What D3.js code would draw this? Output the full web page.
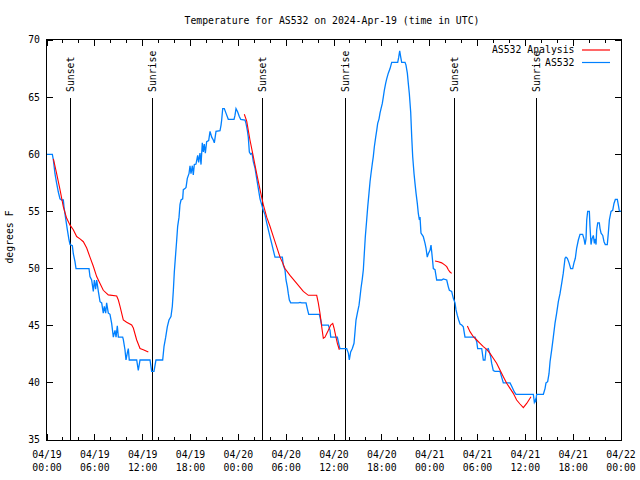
<!DOCTYPE html>
<html>
<head>
<meta charset="utf-8">
<script src="https://cdn.jsdelivr.net/npm/d3@7"></script>
<style>
  html, body { margin: 0; padding: 0; background: #fff; }
  svg { display: block; }
  text { font-family: "DejaVu Sans Mono", "Liberation Mono", monospace; font-size: 9.8px; fill: #000; }
</style>
</head>
<body>
<script>
// ---------- DATA (hours since 2024-04-19 00:00 UTC, degrees F) ----------
const titleText = "Temperature for AS532 on 2024-Apr-19 (time in UTC)";
const yLabel = "degrees F";
const yTicks = [35, 40, 45, 50, 55, 60, 65, 70];
const xMajorTicks = [0, 6, 12, 18, 24, 30, 36, 42, 48, 54, 60, 66, 72];
const xTickDates = ["04/19","04/19","04/19","04/19","04/20","04/20","04/20","04/20","04/21","04/21","04/21","04/21","04/22"];
const xTickTimes = ["00:00","06:00","12:00","18:00","00:00","06:00","12:00","18:00","00:00","06:00","12:00","18:00","00:00"];
const sunEvents = [
  {h: 2.92, label: "Sunset"}, {h: 13.21, label: "Sunrise"},
  {h: 27.0, label: "Sunset"}, {h: 37.38, label: "Sunrise"},
  {h: 51.09, label: "Sunset"}, {h: 61.34, label: "Sunrise"}
];
const seriesNames = ["AS532 Analysis", "AS532"];

const as532 = [
 [0,60],[0.67,60],[0.8,59.5],[1.0,58.3],[1.2,57.5],[1.42,56.7],[1.63,56.1],[1.84,56],[2.05,56],[2.13,55.4],[2.38,54.2],[2.55,53.4],[2.76,52.5],[2.89,52.1],[3.18,52],[3.3,51.3],[3.51,50.6],[3.64,50],[5.27,50],[5.39,49.3],[5.6,49],[5.81,48],[5.94,49],[6.1,48.2],[6.23,49],[6.44,48],[6.65,47.1],[6.86,47],[7.06,46.1],[7.19,46.7],[7.36,46.1],[7.48,47],[7.69,46.1],[7.9,46],[8.11,45.2],[8.32,44],[8.53,44.6],[8.66,44],[8.82,45],[8.95,44],[9.49,44],[9.57,43.8],[9.78,42.9],[9.91,42],[10.07,42.6],[10.2,43],[10.32,42],[11.25,42],[11.45,41.1],[11.67,42],[12.92,42],[13.13,41],[13.42,41],[13.67,42],[14.51,42],
 [14.68,43.2],[14.89,44],[15.09,44.9],[15.3,45.5],[15.55,45.8],[15.72,46.7],[15.85,48.1],[15.97,49.7],[16.14,51.3],[16.27,52.5],[16.39,53.7],[16.56,54.5],[16.68,55.6],[16.81,56],[17.02,56.1],[17.1,56.9],[17.31,57],[17.44,57.1],[17.6,57.9],[17.81,58.3],[17.94,59],[18.06,58.3],[18.23,59],[18.35,58.2],[18.48,59.1],[18.69,59.15],[18.9,59.9],[19.02,59.3],[19.19,60.1],[19.32,59.1],[19.48,61],[19.61,60.2],[19.73,60.9],[19.86,60.1],[20.03,61.1],[20.28,61.2],[20.45,62],[20.66,61.5],[20.86,61.25],[20.99,61],[21.2,62],[21.7,62.06],[21.83,62.56],[21.91,63],[22.04,64],[22.24,64],[22.45,63.6],[22.74,63.06],[23.46,63.06],[23.58,63.4],[23.71,64],[23.92,63.7],[24.12,63.3],[24.3,63.06],[24.84,63],[24.96,62.7],[25.13,62.1],[25.25,61.5],[25.38,60.2],[25.55,60],[25.72,60.1],[25.88,59.35],[26.09,58.8],[26.3,57.9],[26.51,57],[26.72,56.1],[26.93,55.6],[27.13,55.1],[27.35,54.7],[27.56,54],[27.76,53.4],[27.97,52.8],[28.18,52.2],[28.39,51.6],[28.6,51],[29.52,51],
 [29.64,50.3],[29.85,49.9],[29.98,49],[30.15,48.4],[30.27,47.8],[30.4,47.25],[30.57,47],[31.53,47],[31.74,47.04],[31.95,47],[32.49,47],[32.65,46.5],[32.83,46],[34.16,46],[34.33,45.5],[34.46,45.06],[35.29,45.06],[35.5,44.6],[35.59,44],[36.42,44],[36.59,43.46],[36.75,43],[37.59,43],[37.8,42.6],[37.92,42],[38.09,42.7],[38.3,43],[38.51,43.46],[38.64,44.5],[38.76,45.5],[38.93,46.1],[39.14,46.8],[39.26,47.5],[39.39,48.3],[39.55,49.1],[39.68,49.9],[39.8,51.3],[39.93,52.8],[40.1,54.25],[40.23,55.4],[40.39,56.6],[40.52,57.6],[40.64,58.3],[40.81,59.2],[40.93,59.8],[41.06,60.66],[41.23,61.5],[41.36,62.1],[41.48,62.7],[41.65,63.1],[41.77,63.6],[41.9,64],[42.06,64.45],[42.19,65.03],[42.31,65.6],[42.48,66.2],[42.61,66.6],[42.81,67.1],[43.03,67.5],[43.24,68.04],[43.99,68.04],[44.12,68.5],[44.24,69.06],[44.37,68.5],[44.49,68.04],[44.91,68.04],[45.03,67.8],[45.2,67.1],[45.32,66.2],[45.45,65.3],[45.62,63.7],[45.75,61.5],[45.87,59.8],[46.04,58.3],[46.16,57.45],[46.29,56.6],[46.45,55.7],[46.58,54.8],[46.71,54.25],
 [46.79,54.5],[46.91,53.1],[47.2,52.8],[47.42,52.2],[47.54,51.8],[47.7,51],[47.83,51.3],[48.04,51.6],[48.17,52.06],[48.25,51.5],[48.38,50.6],[48.46,50],[48.67,49.9],[48.88,49],[49.51,49],[49.71,49.1],[50.14,49],[50.34,48.4],[50.47,48.1],[50.76,48],[50.97,47.4],[51.18,47],[51.3,46.4],[51.47,45.9],[51.64,45.5],[51.81,45.15],[52.02,45.06],[52.22,44.9],[52.43,44],[53.69,44],[53.9,43.6],[54.02,43],[54.53,43],[54.73,42],[54.94,42],[55.07,42.9],[55.36,43],[55.48,42.7],[55.65,42.3],[55.78,41.7],[55.98,41.07],[56.2,41],[56.82,41],[57.03,40.5],[57.24,40],[58.08,40],[58.29,39.7],[58.62,39.2],[58.83,39],[61.0,39],[61.13,38.3],[61.25,38.5],[61.3,38.3],[61.42,39],[62.26,39],[62.47,39.5],[62.59,40],[62.8,40.1],[62.97,40.8],
 [63.1,41.85],[63.31,42.9],[63.51,44],[63.72,45.2],[63.93,46.1],[64.14,47.1],[64.35,47.8],[64.56,48.7],[64.76,49.6],[64.98,50.9],[65.1,51],[65.27,50.9],[65.48,50.5],[65.69,50],[65.94,50],[66.1,50.5],[66.27,50.9],[66.44,51.8],[66.65,52.5],[66.86,53],[67.19,53],[67.36,52.6],[67.49,52.1],[67.61,52.6],[67.7,54.25],[67.82,55],[68.03,55],[68.11,53.7],[68.24,52.1],[68.36,52.6],[68.53,52.9],[68.66,52.2],[68.78,52.6],[68.87,52.1],[68.95,53.4],[69.08,54],[69.28,54],[69.37,53.5],[69.5,53.1],[69.71,52.9],[69.87,52.35],[70.03,52.1],[70.28,52.1],[70.41,53.1],[70.54,54.25],[70.75,55],[70.96,55.1],[71.12,55.7],[71.29,56.05],[71.54,56.05],[71.67,55.56],[71.79,55.06],[72,55]
];

const analysisSeg1 = [
 [0.8,59.6],[1.21,58.3],[1.63,56.9],[2.05,55.4],[2.47,54.4],[2.89,53.8],[3.3,53.4],[3.72,52.8],[4.14,52.6],[4.56,52.35],[4.98,51.8],[5.39,51],[5.81,50.2],[6.23,49.3],[6.65,48.7],[7.06,48.1],[7.69,47.7],[8.74,47.6],[8.95,47.25],[9.16,46.7],[9.57,45.5],[9.99,45.3],[10.62,45.06],[10.83,44.8],[11.25,43.75],[11.67,43.0],[12.08,42.9],[12.71,42.7]
];
const analysisSeg2 = [
 [24.75,63.5],[25.05,62.9],[25.46,61.25],[25.88,59.8],[26.3,58.3],[26.72,56.9],[27.13,55.6],[27.56,54.5],[27.97,53.7],[28.39,52.8],[28.81,51.9],[29.23,51.0],[29.56,50.5],[29.85,50.0],[30.48,49.4],[31.32,48.7],[32.15,48.0],[32.78,47.66],[33.83,47.66],[34.03,47.0],[34.24,46.1],[34.46,44.9],[34.66,43.9],[34.87,44.0],[35.29,44.6],[35.59,45.06],[35.84,45.2],[36.0,44.8],[36.25,44.0],[36.42,43.46],[36.67,42.9]
];
const analysisSeg3 = [
 [48.67,50.66],[49.09,50.6],[49.51,50.5],[49.92,50.3],[50.14,50.17],[50.34,49.9],[50.55,49.7],[50.76,49.58]
];
const analysisSeg4 = [
 [52.73,44.97],[53.06,44.48],[53.48,44.04],[53.9,43.75],[54.32,43.46],[54.73,43.17],[55.15,42.93],[55.57,42.58],[55.98,42.15],[56.4,41.71],[56.82,41.12],[57.24,40.54],[57.66,39.96],[58.08,39.52],[58.49,39.08],[58.91,38.5],[59.33,38.15],[59.75,37.83],[60.17,38.2],[60.71,38.79]
];
const analysisSegments = [analysisSeg1, analysisSeg2, analysisSeg3, analysisSeg4];

// ---------- CHART ----------
const W = 640, H = 480;
const m = {left: 47, right: 621, top: 40, bottom: 440};
const svg = d3.select("body").append("svg").attr("width", W).attr("height", H);

const x = d3.scaleLinear().domain([0, 72]).range([m.left, m.right]);
const y = d3.scaleLinear().domain([35, 70]).range([m.bottom, m.top]);

const blue = "#0080ff", red = "#ff0000";

// ticks (inward, mirrored)
const minorH = d3.range(0, 73, 2).filter(h => h % 6 !== 0);
const gt = svg.append("g").attr("stroke", "#000").attr("stroke-width", 1).attr("shape-rendering", "crispEdges");
xMajorTicks.forEach(h => {
  gt.append("line").attr("x1", x(h)).attr("x2", x(h)).attr("y1", m.bottom).attr("y2", m.bottom - 6);
  gt.append("line").attr("x1", x(h)).attr("x2", x(h)).attr("y1", m.top).attr("y2", m.top + 6);
});
minorH.forEach(h => {
  gt.append("line").attr("x1", x(h)).attr("x2", x(h)).attr("y1", m.bottom).attr("y2", m.bottom - 3);
  gt.append("line").attr("x1", x(h)).attr("x2", x(h)).attr("y1", m.top).attr("y2", m.top + 3);
});
yTicks.forEach(v => {
  gt.append("line").attr("x1", m.left).attr("x2", m.left + 6).attr("y1", y(v)).attr("y2", y(v));
  gt.append("line").attr("x1", m.right).attr("x2", m.right - 6).attr("y1", y(v)).attr("y2", y(v));
});

// y tick labels
svg.append("g").selectAll("text").data(yTicks).join("text")
  .attr("x", m.left - 7).attr("y", d => y(d)).attr("dy", "0.35em")
  .attr("text-anchor", "end").text(d => d);

// x tick labels
const xl = svg.append("g");
xMajorTicks.forEach((h, i) => {
  xl.append("text").attr("x", x(h)).attr("y", 457.5).attr("text-anchor", "middle").text(xTickDates[i]);
  xl.append("text").attr("x", x(h)).attr("y", 471).attr("text-anchor", "middle").text(xTickTimes[i]);
});

// title and y label
svg.append("text").attr("x", 332).attr("y", 23.5).attr("text-anchor", "middle").text(titleText);
svg.append("text").attr("transform", "translate(13,237) rotate(-90)").attr("text-anchor", "middle").text(yLabel);

// sun lines and labels
const gs = svg.append("g");
sunEvents.forEach(s => {
  gs.append("line").attr("x1", x(s.h)).attr("x2", x(s.h)).attr("y1", m.bottom).attr("y2", 98)
    .attr("stroke", "#000").attr("stroke-width", 1).attr("shape-rendering", "crispEdges");
  gs.append("text").attr("transform", `translate(${x(s.h) + 3.5},92) rotate(-90)`)
    .attr("text-anchor", "start").text(s.label);
});

// series
const line = d3.line().x(d => x(d[0])).y(d => y(d[1]));
svg.append("path").datum(as532).attr("d", line)
  .attr("fill", "none").attr("stroke", blue).attr("stroke-width", 1.3).attr("stroke-linejoin", "miter");
analysisSegments.forEach(seg => {
  svg.append("path").datum(seg).attr("d", line)
    .attr("fill", "none").attr("stroke", red).attr("stroke-width", 1.1);
});

// border
svg.append("rect").attr("x", m.left - 0.5).attr("y", m.top - 0.5)
  .attr("width", m.right - m.left + 1).attr("height", m.bottom - m.top + 1)
  .attr("fill", "none").attr("stroke", "#000").attr("stroke-width", 1).attr("shape-rendering", "crispEdges");

// legend
const lg = svg.append("g");
[[seriesNames[0], red, 50], [seriesNames[1], blue, 62.5]].forEach(([name, col, ly]) => {
  lg.append("text").attr("x", 574.5).attr("y", ly).attr("dy", "0.35em").attr("text-anchor", "end").text(name);
  lg.append("line").attr("x1", 582).attr("x2", 610).attr("y1", ly).attr("y2", ly)
    .attr("stroke", col).attr("stroke-width", 1.2);
});
</script>
</body>
</html>
